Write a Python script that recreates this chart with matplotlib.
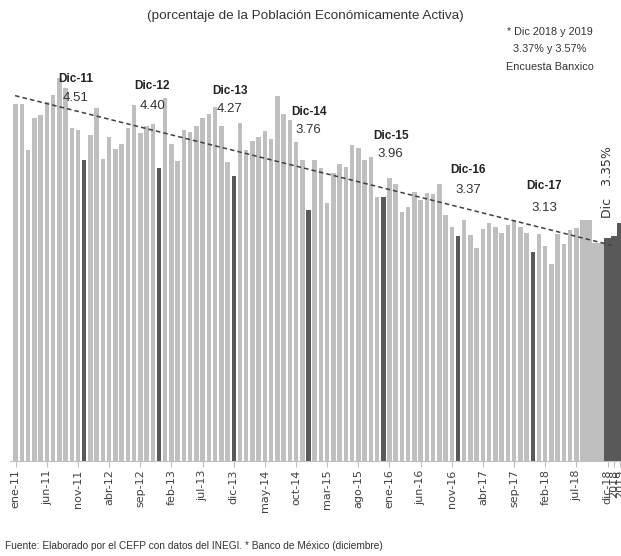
import numpy as np
import matplotlib
matplotlib.use('Agg')
import matplotlib.pyplot as plt

# tasa de desocupacion mensual, ene-11 a dic-18
meses = ['ene', 'feb', 'mar', 'abr', 'may', 'jun', 'jul', 'ago', 'sep', 'oct', 'nov', 'dic']
anios = [11, 12, 13, 14, 15, 16, 17, 18]

tasa = [
    5.35, 5.35, 4.66, 5.15, 5.19, 5.39, 5.49, 5.75, 5.60, 5.00, 4.97, 4.51,
    4.89, 5.29, 4.53, 4.86, 4.68, 4.75, 5.00, 5.34, 4.92, 5.03, 5.06, 4.40,
    5.45, 4.75, 4.50, 4.97, 4.93, 5.02, 5.15, 5.20, 5.31, 5.02, 4.49, 4.27,
    5.07, 4.67, 4.80, 4.86, 4.95, 4.83, 5.47, 5.20, 5.11, 4.79, 4.52, 3.76,
    4.52, 4.40, 3.87, 4.32, 4.45, 4.41, 4.74, 4.70, 4.51, 4.56, 3.96, 3.96,
    4.24, 4.15, 3.74, 3.81, 4.04, 3.91, 4.02, 4.01, 4.15, 3.69, 3.51, 3.37,
    3.61, 3.39, 3.20, 3.48, 3.57, 3.51, 3.42, 3.54, 3.61, 3.51, 3.42, 3.13,
    3.40, 3.22, 2.96, 3.40, 3.26, 3.47, 3.49, 3.62, 3.62, 3.27, 3.27, 3.35,
]
# encuesta Banxico, diciembre 2018 y 2019
pronostico = [3.37, 3.57]
pron_labels = ['2018', '2019']

dic_labels = ['Dic-11', 'Dic-12', 'Dic-13', 'Dic-14', 'Dic-15', 'Dic-16', 'Dic-17']
dic_values = [4.51, 4.40, 4.27, 3.76, 3.96, 3.37, 3.13]

# where the December labels sit (offset from bar, height of title / value)
lab_dx = [-1.35, -1.05, -0.6, 0.0, 1.2, 1.6, 1.8]
lab_y1 = [5.73, 5.62, 5.55, 5.24, 4.87, 4.36, 4.13]
lab_y2 = [5.45, 5.32, 5.28, 4.96, 4.61, 4.07, 3.79]

sans = ['Liberation Sans', 'DejaVu Sans']

cats = [f'{m}-{a}' for a in anios for m in meses] + pron_labels
n = len(tasa)
x = np.arange(n)

light = '#bfbfbf'
dark = '#595959'

fig = plt.figure(figsize=(6.21, 5.56), dpi=100)
ax = fig.add_axes([10 / 621, 95 / 556, 611 / 621, 400 / 556])

cols = [dark if i % 12 == 11 else light for i in range(n)]
widths = [1.0 if i >= 91 else 0.72 for i in range(n)]
ax.bar(x, tasa, width=widths, color=cols, linewidth=0)
ax.bar(np.arange(n, n + len(pronostico)), pronostico, width=1.0, color=dark, linewidth=0)

# tendencia lineal
coef = np.polyfit(x, tasa, 1)
xt = np.array([-0.1, 96.0])
ax.plot(xt, np.polyval(coef, xt), color='#404040', lw=1.1, ls=(0, (3, 2)))

dec_idx = [i for i in range(n) if i % 12 == 11][:len(dic_labels)]
for k, i in enumerate(dec_idx):
    ax.text(i + lab_dx[k], lab_y1[k], dic_labels[k], ha='center', va='center',
            fontsize=8.5, fontweight='bold', family=sans, color='#222222')
    ax.text(i + lab_dx[k], lab_y2[k], f'{dic_values[k]:.2f}', ha='center', va='center',
            fontsize=9.5, family=sans, color='#333333')

ax.text(95, 3.64, f'Dic   {tasa[-1]:.2f}%', rotation=90, ha='center', va='bottom',
        fontsize=9, color='#333333')

ax.set_xlim(-0.915, 97.16)
ax.set_ylim(0, 6)
ticks = list(range(0, n, 5)) + [n, n + 1]
ax.set_xticks(ticks)
ax.set_xticklabels([cats[t] for t in ticks], rotation=90, fontsize=8, color='#404040')
ax.tick_params(axis='x', length=4, color='#bfbfbf', pad=2)
ax.set_yticks([])
for s in ['left', 'top', 'right']:
    ax.spines[s].set_visible(False)
ax.spines['bottom'].set_color('#bfbfbf')
ax.spines['bottom'].set_linewidth(0.8)

fig.text(0.491, 0.971, '(porcentaje de la Población Económicamente Activa)',
         ha='center', va='center', fontsize=9.7, family=sans, color='#333333')
fig.text(0.885, 1 - 32 / 556, '* Dic 2018 y 2019', ha='center', va='center',
         fontsize=7.8, family=sans, color='#333333')
fig.text(0.885, 1 - 49 / 556, '3.37% y 3.57%', ha='center', va='center',
         fontsize=7.8, family=sans, color='#333333')
fig.text(0.885, 1 - 67 / 556, 'Encuesta Banxico', ha='center', va='center',
         fontsize=7.8, family=sans, color='#333333')
fig.text(5 / 621, 1 - 546 / 556,
         'Fuente: Elaborado por el CEFP con datos del INEGI. * Banco de México (diciembre)',
         ha='left', va='center', fontsize=7.3, family=sans, color='#333333')

fig.savefig('out.png', dpi=100)
